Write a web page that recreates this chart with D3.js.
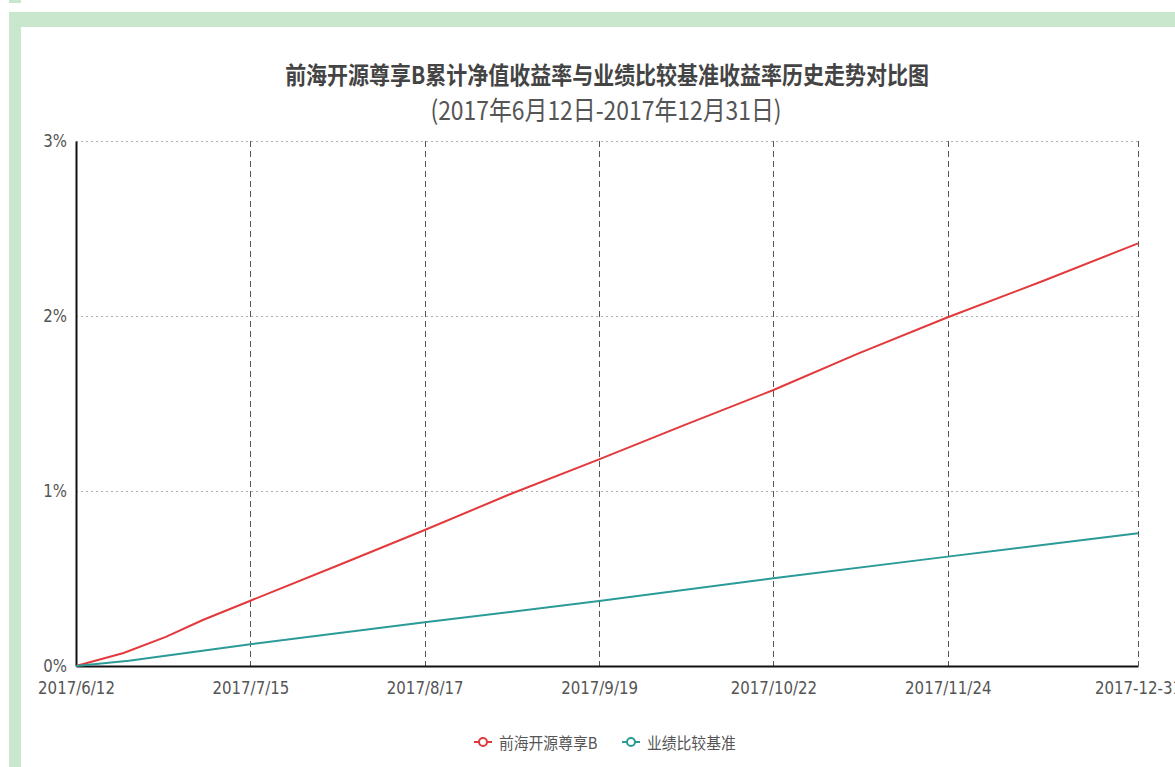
<!DOCTYPE html>
<html><head><meta charset="utf-8">
<script src="https://cdn.jsdelivr.net/npm/d3@7"></script>
<style>body{margin:0;background:#fff;overflow:hidden}</style>
</head><body>
<svg id="c" width="1175" height="767"></svg>
<script>
const titleText = "前海开源尊享B累计净值收益率与业绩比较基准收益率历史走势对比图";
const subtitleText = "(2017年6月12日-2017年12月31日)";
const seriesNames = ["前海开源尊享B", "业绩比较基准"];
// day index from 2017/6/12 (category position), cumulative return in %
const fundDays = [0, 9, 17, 24, 33, 50, 66, 82, 99, 115, 132, 148, 165, 183, 201];
const fundReturn = [0, 0.074, 0.166, 0.263, 0.373, 0.58, 0.777, 0.98, 1.181, 1.375, 1.577, 1.785, 1.993, 2.2, 2.415];
const benchDays = [0, 10, 33, 66, 99, 132, 165, 201];
const benchReturn = [0, 0.03, 0.124, 0.25, 0.371, 0.501, 0.625, 0.758];
const xTickIndex = [0, 33, 66, 99, 132, 165, 201];
const xTickLabels = ["2017/6/12", "2017/7/15", "2017/8/17", "2017/9/19", "2017/10/22", "2017/11/24", "2017-12-31"];
const yTicks = [0, 1, 2, 3];

const svg = d3.select("#c");
const SY = 1.15;
const frame = "#c8e7cd";

// page frame
svg.append("rect").attr("x", 9).attr("y", 0).attr("width", 12).attr("height", 3).attr("fill", frame);
svg.append("rect").attr("x", 9).attr("y", 12).attr("width", 1166).attr("height", 15).attr("fill", frame);
svg.append("rect").attr("x", 9).attr("y", 12).attr("width", 12).attr("height", 755).attr("fill", frame);

const x = d3.scaleLinear().domain([0, 201]).range([76, 1138]);
const y = d3.scaleLinear().domain([0, 3]).range([666, 141]);

function label(g, tx, ty, txt, opts) {
  return g.append("text")
    .attr("transform", `translate(${tx},${ty}) scale(1,${opts.sy || SY})`)
    .attr("dominant-baseline", "central")
    .attr("text-anchor", opts.anchor || "middle")
    .style("font-family", opts.family)
    .style("font-size", opts.size + "px")
    .style("font-weight", opts.weight || 400)
    .attr("fill", opts.fill || "#555")
    .text(txt);
}

// title
label(svg, 607, 74, titleText, {family: "'Noto Sans CJK SC'", size: 21, weight: 700, fill: "#444"});
label(svg, 606, 108, subtitleText, {family: "'Noto Sans CJK SC'", size: 22.9, fill: "#555"});

// horizontal dotted grid
svg.append("g").selectAll("line").data(yTicks.filter(d => d > 0)).join("line")
  .attr("x1", 76).attr("x2", 1138)
  .attr("y1", d => y(d) + 0.5).attr("y2", d => y(d) + 0.5)
  .attr("stroke", "#b0b0b0").attr("stroke-width", 1).attr("stroke-dasharray", "2,3");

// vertical dashed grid
svg.append("g").selectAll("line").data(xTickIndex.slice(1)).join("line")
  .attr("x1", d => Math.round(x(d)) + 0.5).attr("x2", d => Math.round(x(d)) + 0.5)
  .attr("y1", 141).attr("y2", 666)
  .attr("stroke", "#555").attr("stroke-width", 1).attr("stroke-dasharray", "6,4");

// axes
const xAxis = svg.append("g").attr("transform", "translate(0,666)")
  .call(d3.axisBottom(x).tickValues(xTickIndex).tickFormat((d, i) => xTickLabels[i]).tickSize(0).tickPadding(0));
xAxis.select(".domain").attr("stroke", "#111").attr("stroke-width", 2);
xAxis.selectAll("text").attr("y", null).attr("dy", null)
  .attr("dominant-baseline", "central")
  .attr("transform", `translate(0,22) scale(1,${SY})`)
  .style("font-family", "'DejaVu Sans'").style("font-size", "15px").attr("fill", "#555");

const yAxis = svg.append("g").attr("transform", "translate(76,0)")
  .call(d3.axisLeft(y).tickValues(yTicks).tickFormat(d => d + "%").tickSize(0).tickPadding(0));
yAxis.select(".domain").attr("stroke", "#111").attr("stroke-width", 2);
yAxis.selectAll("text").attr("x", null).attr("dy", null)
  .attr("dominant-baseline", "central")
  .attr("transform", `translate(-9,0) scale(1,${SY})`)
  .style("font-family", "'DejaVu Sans'").style("font-size", "15px").attr("fill", "#555");

// lines
const line = d3.line().x(d => x(d[0])).y(d => y(d[1]));
const colors = ["#e23a3c", "#2a9b97"];
svg.append("path").datum(fundDays.map((d, i) => [d, fundReturn[i]]))
  .attr("d", line).attr("fill", "none").attr("stroke", colors[0]).attr("stroke-width", 2);
svg.append("path").datum(benchDays.map((d, i) => [d, benchReturn[i]]))
  .attr("d", line).attr("fill", "none").attr("stroke", colors[1]).attr("stroke-width", 2);

// legend
const legendX = [483, 631];
const lg = svg.append("g");
seriesNames.forEach((name, i) => {
  const cx = legendX[i], cy = 742;
  lg.append("line").attr("x1", cx - 9).attr("x2", cx + 9).attr("y1", cy).attr("y2", cy)
    .attr("stroke", colors[i]).attr("stroke-width", 2);
  lg.append("circle").attr("cx", cx).attr("cy", cy).attr("r", 4)
    .attr("fill", "#fff").attr("stroke", colors[i]).attr("stroke-width", 2);
  label(lg, cx + 16, cy, name, {family: "'Noto Sans CJK SC'", size: 14.8, anchor: "start", fill: "#555", sy: 1.08});
});
</script>
</body></html>
